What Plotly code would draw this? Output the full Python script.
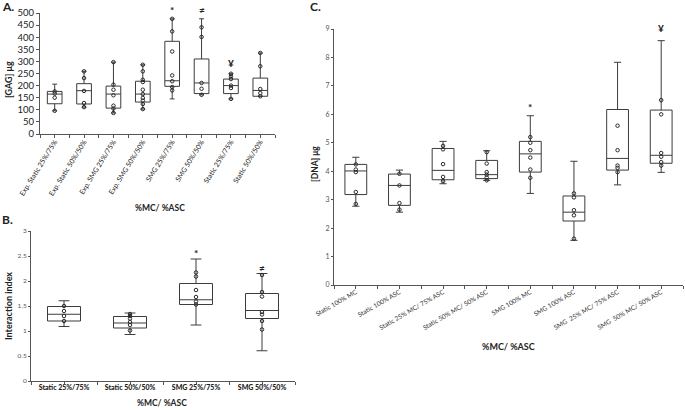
import plotly.graph_objects as go

# ---------------- Panel A data ----------------
A_cats = ["Exp. Static 25%/75%", "Exp. Static 50%/50%", "Exp. SMG 25%/75%", "Exp. SMG 50%/50%",
          "SMG 25%/75%", "SMG 50%/50%", "Static 25%/75%", "Static 50%/50%"]
A_lower = [96, 111, 87, 103, 145, 162, 145, 156]
A_q1 = [125, 124, 107, 132, 197, 167, 167, 156]
A_median = [165, 179, 165, 165, 220, 211, 200, 180]
A_q3 = [176, 208, 198, 218, 383, 310, 227, 231]
A_upper = [206, 259, 297, 286, 476, 476, 249, 335]
A_points = [
    [176, 167, 150, 96],
    [259, 231, 178, 128, 111],
    [297, 204, 183, 160, 117, 105, 87],
    [286, 259, 224, 215, 183, 165, 149, 138, 124, 103],
    [476, 424, 341, 242, 218, 194, 180],
    [441, 401, 211, 187, 162],
    [249, 238, 227, 200, 190, 145],
    [335, 280, 186, 169, 156],
]
A_ymax = 500
A_sig_cats = ["SMG 25%/75%", "SMG 50%/50%", "Static 25%/75%"]
A_sig_vals = [514, 514, 293]
A_sig_text = ["*", "≠", "¥"]

# ---------------- Panel B data ----------------
B_cats = ["Static 25%/75%", "Static 50%/50%", "SMG 25%/75%", "SMG 50%/50%"]
B_lower = [1.09, 0.93, 1.12, 0.605]
B_q1 = [1.20, 1.06, 1.53, 1.25]
B_median = [1.335, 1.16, 1.625, 1.41]
B_q3 = [1.49, 1.29, 1.95, 1.75]
B_upper = [1.605, 1.36, 2.44, 2.15]
B_points = [
    [1.50, 1.40, 1.30, 1.20],
    [1.34, 1.30, 1.25, 1.18, 1.12, 1.01],
    [2.17, 2.09, 1.82, 1.68, 1.59, 1.53],
    [2.12, 1.78, 1.69, 1.38, 1.33, 1.20, 1.03],
]
B_ymax = 3
B_sig_cats = ["SMG 25%/75%", "SMG 50%/50%"]
B_sig_vals = [2.57, 2.27]
B_sig_text = ["*", "≠"]

# ---------------- Panel C data ----------------
C_cats = ["Static 100% MC", "Static 100% ASC", "Static 25% MC/ 75% ASC", "Static 50% MC/ 50% ASC",
          "SMG 100% MC", "SMG 100% ASC", "SMG  25% MC/ 75% ASC", "SMG  50% MC/ 50% ASC"]
C_lower = [2.77, 2.56, 3.56, 3.68, 3.22, 1.57, 3.52, 3.96]
C_q1 = [3.18, 2.80, 3.70, 3.74, 3.97, 2.25, 4.04, 4.28]
C_median = [4.01, 3.50, 4.03, 3.88, 4.61, 2.56, 4.45, 4.56]
C_q3 = [4.24, 3.90, 4.80, 4.38, 5.05, 3.13, 6.17, 6.15]
C_upper = [4.49, 4.04, 5.05, 4.72, 5.95, 4.35, 7.83, 8.59]
C_points = [
    [4.24, 4.06, 3.97, 3.27, 2.85],
    [3.91, 3.50, 2.88, 2.65],
    [4.89, 4.77, 4.25, 3.80, 3.65],
    [4.67, 4.27, 3.97, 3.88, 3.78, 3.68],
    [5.20, 5.00, 4.74, 4.48, 4.06, 3.77],
    [3.22, 3.08, 2.63, 2.45, 1.63],
    [5.60, 4.74, 4.20, 4.12, 3.97],
    [6.50, 6.00, 4.64, 4.51, 4.32, 4.20],
]
C_ymax = 9
C_sig_cats = ["SMG 100% MC", "SMG  50% MC/ 50% ASC"]
C_sig_vals = [6.25, 9.05]
C_sig_text = ["*", "¥"]

W, H = 685, 412
FONT = "Lato, 'Open Sans', sans-serif"
LINE = "#3c3c3c"

fig = go.Figure()


def add_panel(cats, lo, q1, med, q3, hi, pts, xa, ya):
    fig.add_trace(go.Box(
        x=cats, q1=q1, median=med, q3=q3, lowerfence=lo, upperfence=hi,
        xaxis=xa, yaxis=ya, fillcolor="white", line=dict(color=LINE, width=1),
        width=0.5, whiskerwidth=0.33, boxpoints=False, showlegend=False, hoverinfo="skip"))
    xs, ys = [], []
    for c, p in zip(cats, pts):
        xs += [c] * len(p)
        ys += p
    fig.add_trace(go.Scatter(
        x=xs, y=ys, mode="markers", xaxis=xa, yaxis=ya, showlegend=False, hoverinfo="skip",
        marker=dict(symbol="circle-open", size=3.5, color="#2a2a2a", line=dict(width=1, color="#2a2a2a"))))


add_panel(A_cats, A_lower, A_q1, A_median, A_q3, A_upper, A_points, "x", "y")
add_panel(B_cats, B_lower, B_q1, B_median, B_q3, B_upper, B_points, "x2", "y2")
add_panel(C_cats, C_lower, C_q1, C_median, C_q3, C_upper, C_points, "x3", "y3")

# empty traces so the tick-only overlay axes are drawn
for xa, ya in [("x4", "y"), ("x5", "y2"), ("x6", "y3")]:
    fig.add_trace(go.Scatter(x=[None], y=[None], xaxis=xa, yaxis=ya, showlegend=False,
                             hoverinfo="skip", mode="markers"))

annotations = []
# significance marks: y given as fraction of the axis (ranges start at 0) so marks above the top still show
for cats, vals, txt, xr, yr, ymax in [(A_sig_cats, A_sig_vals, A_sig_text, "x", "y", A_ymax),
                                      (B_sig_cats, B_sig_vals, B_sig_text, "x2", "y2", B_ymax),
                                      (C_sig_cats, C_sig_vals, C_sig_text, "x3", "y3", C_ymax)]:
    for c, v, t in zip(cats, vals, txt):
        annotations.append(dict(x=c, y=v / ymax, xref=xr, yref=yr + " domain", text=f"<b>{t}</b>",
                                showarrow=False, xanchor="center", yanchor="middle",
                                font=dict(size=10, color="#222", family=FONT)))


def paper(px, py):
    return px / W, 1 - py / H


def label(text, px, py, size, bold=True, angle=0, color="#222"):
    x, y = paper(px, py)
    annotations.append(dict(x=x, y=y, xref="paper", yref="paper", text=f"<b>{text}</b>" if bold else text,
                            showarrow=False, textangle=angle, xanchor="center", yanchor="middle",
                            font=dict(size=size, color=color, family=FONT)))


label("A.", 8, 7, 12)
label("B.", 7, 219, 12)
label("C.", 315, 7, 12)
label("[GAG] μg", 8, 80, 9, angle=-90)
label("%MC/ %ASC", 160, 208, 8.5)
label("Interaction index", 8, 306, 9, angle=-90)
label("%MC/ %ASC", 162, 403, 8.5)
label("[DNA] μg", 315, 164, 8.5, angle=-90)
label("%MC/ %ASC", 508, 346, 9)

ax_common = dict(showline=True, linecolor="#555", linewidth=1, showgrid=False, zeroline=False,
                 automargin=False)


def dom_x(a, b):
    return [a / W, b / W]


def dom_y(top, bottom):
    return [1 - bottom / H, 1 - top / H]


def tick_overlay(base, anchor, n):
    return dict(overlaying=base, anchor=anchor, range=[-0.5, n - 0.5], tick0=-0.5, dtick=0.5,
                ticks="outside", ticklen=3, tickcolor="#555", showticklabels=False,
                showline=False, showgrid=False, zeroline=False, automargin=False)


fig.update_layout(
    width=W, height=H, margin=dict(l=0, r=0, t=0, b=0),
    paper_bgcolor="white", plot_bgcolor="white", boxmode="overlay",
    font=dict(family=FONT, color="#222"),
    xaxis=dict(domain=dom_x(40, 275), anchor="y", type="category", range=[-0.5, 7.5],
               ticks="", tickangle=-58, tickfont=dict(size=7, color="#222"), **ax_common),
    yaxis=dict(domain=dom_y(13, 134), anchor="x", range=[0, A_ymax], dtick=50,
               ticks="outside", ticklen=3, tickcolor="#555",
               tickfont=dict(size=9.5, color="#222"), **ax_common),
    xaxis2=dict(domain=dom_x(31, 295), anchor="y2", type="category", range=[-0.5, 3.5],
                ticks="", tickfont=dict(size=7, color="#222", family="Lato Black, Lato"),
                **ax_common),
    yaxis2=dict(domain=dom_y(231, 381), anchor="x2", range=[0, B_ymax], dtick=0.5,
                ticks="outside", ticklen=2, tickcolor="#555",
                tickfont=dict(size=6.5, color="#555"), **ax_common),
    xaxis3=dict(domain=dom_x(334, 683), anchor="y3", type="category", range=[-0.5, 7.5],
                ticks="", tickangle=-30, tickfont=dict(size=6.5, color="#333"), **ax_common),
    yaxis3=dict(domain=dom_y(29, 285), anchor="x3", range=[0, C_ymax], dtick=1,
                ticks="outside", ticklen=2, tickcolor="#555",
                tickfont=dict(size=7, color="#555"), **ax_common),
    xaxis4=tick_overlay("x", "y", 8),
    xaxis5=tick_overlay("x2", "y2", 4),
    xaxis6=tick_overlay("x3", "y3", 8),
    annotations=annotations,
)

fig.write_html("out.html", config={"displayModeBar": False},
               post_script="document.body.style.margin='0';document.body.style.overflow='hidden';")
